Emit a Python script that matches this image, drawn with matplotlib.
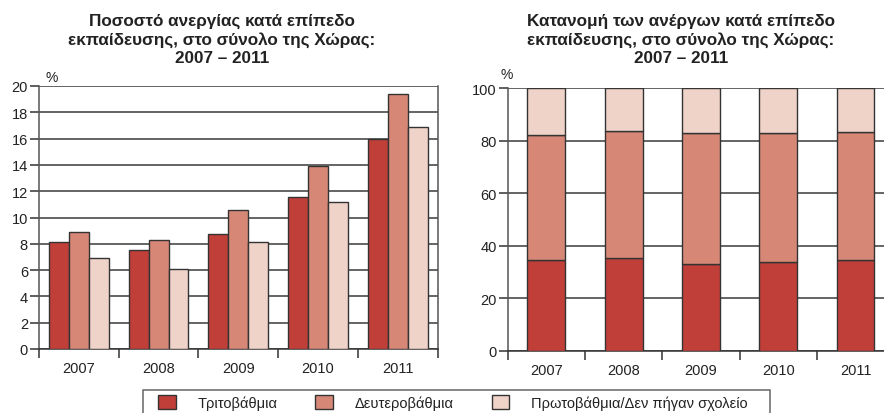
import matplotlib
matplotlib.use('Agg')
import matplotlib.pyplot as plt
from matplotlib.patches import Rectangle, Patch
import numpy as np

plt.rcParams['font.family'] = ['Liberation Sans', 'DejaVu Sans']

# ---- data ----
years = ['2007', '2008', '2009', '2010', '2011']
series_names = ['Τριτοβάθμια', 'Δευτεροβάθμια', 'Πρωτοβάθμια/Δεν πήγαν σχολείο']
rate_tertiary = [8.15, 7.55, 8.75, 11.55, 16.0]
rate_secondary = [8.9, 8.3, 10.6, 13.95, 19.4]
rate_primary = [6.95, 6.1, 8.15, 11.2, 16.85]
share_tertiary = [34.6, 35.4, 33.0, 33.9, 34.6]
share_secondary = [47.8, 48.4, 49.9, 49.0, 48.6]
share_primary = [17.6, 16.2, 17.1, 17.1, 16.8]
title_left = 'Ποσοστό ανεργίας κατά επίπεδο\nεκπαίδευσης, στο σύνολο της Χώρας:\n2007 – 2011'
title_right = 'Κατανομή των ανέργων κατά επίπεδο\nεκπαίδευσης, στο σύνολο της Χώρας:\n2007 – 2011'

colors = ['#C13F39', '#D78775', '#F0D3C8']
edge = '#333333'
grid_c = '#3a3a3a'
txt_c = '#222222'

W, H = 884, 414
fig = plt.figure(figsize=(W / 100, H / 100), dpi=100)

ax1 = fig.add_axes([39 / W, 1 - 350 / H, 398.5 / W, 263 / H])
ax2 = fig.add_axes([507.7 / W, 1 - 352 / H, 386.5 / W, 262.7 / H])

x = np.arange(len(years))


def style(ax, ymax, ystep):
    ax.set_xlim(-0.5, len(years) - 0.5)
    ax.set_ylim(0, ymax)
    ax.set_yticks(np.arange(0, ymax + 0.1, ystep))
    ax.yaxis.grid(True, color=grid_c, linewidth=1.1)
    ax.set_axisbelow(True)
    ax.set_xticks(np.arange(-0.5, len(years), 1.0))
    ax.set_xticklabels([])
    ax.set_xticks(x, minor=True)
    ax.set_xticklabels(years, minor=True, fontsize=10.5, color=txt_c)
    ax.tick_params(axis='x', which='major', direction='out', length=6.5,
                   width=1.1, color=edge)
    ax.tick_params(axis='x', which='minor', length=0, pad=9)
    ax.tick_params(axis='y', direction='out', length=6.5, width=1.1,
                   color=edge, labelsize=10.5, labelcolor=txt_c, pad=1.5)
    ax.spines['top'].set_visible(False)
    for s in ['left', 'right', 'bottom']:
        ax.spines[s].set_color('#555555')
        ax.spines[s].set_linewidth(1.1)
    ax.spines['bottom'].set_color(edge)


# left chart: grouped bars
bw = 0.25
for i, (vals, c) in enumerate(zip([rate_tertiary, rate_secondary, rate_primary], colors)):
    ax1.bar(x + (i - 1) * bw, vals, width=bw, color=c, edgecolor=edge,
            linewidth=1.0, zorder=3)
style(ax1, 20, 2)

# right chart: stacked bars
bottom = np.zeros(len(years))
for vals, c in zip([share_tertiary, share_secondary, share_primary], colors):
    ax2.bar(x, vals, width=0.49, bottom=bottom, color=c, edgecolor=edge,
            linewidth=1.0, zorder=3)
    bottom = bottom + np.array(vals)
style(ax2, 100, 20)
ax2.spines['right'].set_visible(False)

# titles
fig.text(222 / W, 1 - 14 / H, title_left, ha='center', va='top',
         fontsize=12.3, fontweight='bold', color=txt_c, linespacing=1.25)
fig.text(681 / W, 1 - 14 / H, title_right, ha='center', va='top',
         fontsize=12.3, fontweight='bold', color=txt_c, linespacing=1.25)

# % labels
fig.text(52 / W, 1 - 78 / H, '%', ha='center', va='center', fontsize=10, color=txt_c)
fig.text(507 / W, 1 - 75 / H, '%', ha='center', va='center', fontsize=10, color=txt_c)

# legend
fig.patches.append(Rectangle((143 / W, -0.05), (770 - 143) / W, 1 - 391 / H + 0.05,
                             transform=fig.transFigure, fill=False,
                             edgecolor='#666666', linewidth=1.1))
handles = [Patch(facecolor=c, edgecolor=edge, linewidth=1.0) for c in colors]
fig.legend(handles, series_names, loc='upper left',
           bbox_to_anchor=(158 / W, 1 - 396 / H), ncol=3, frameon=False,
           fontsize=10.5, borderpad=0, borderaxespad=0, handlelength=1.2,
           handleheight=1.15, handletextpad=1.5, columnspacing=2.6,
           labelcolor=txt_c)

fig.savefig('out.png', dpi=100)
